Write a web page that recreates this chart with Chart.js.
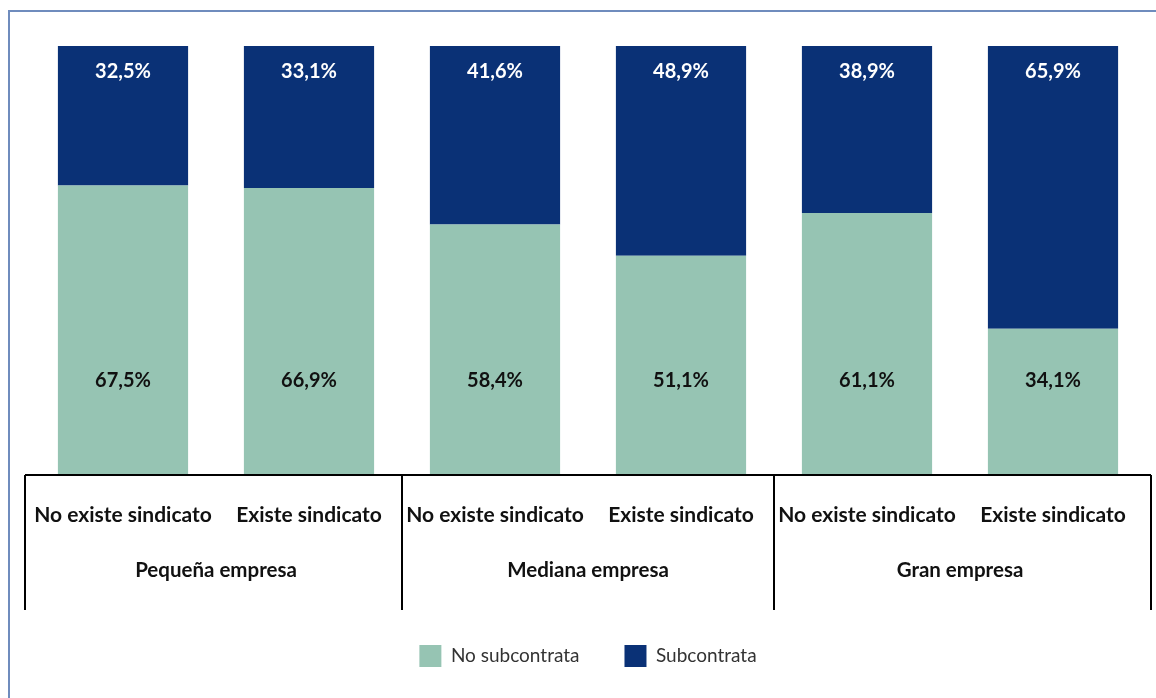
<!DOCTYPE html>
<html lang="es">
<head>
<meta charset="utf-8">
<script src="https://cdn.jsdelivr.net/npm/chart.js@4.4.1/dist/chart.umd.min.js"></script>
<style>
  html, body { margin: 0; padding: 0; background: #fff; }
  #marco { position: absolute; left: 8px; top: 10px; width: 1160px; height: 700px;
           border-left: 2px solid #6f8cbd; border-top: 2px solid #6f8cbd; }
  #caja { position: absolute; left: 0; top: 0; width: 1156px; height: 698px; }
</style>
</head>
<body>
<div id="marco"></div>
<div id="caja"><canvas id="grafica"></canvas></div>
<script>
// Datos
const categorias = ['No existe sindicato', 'Existe sindicato', 'No existe sindicato', 'Existe sindicato', 'No existe sindicato', 'Existe sindicato'];
const grupos = ['Pequeña empresa', 'Mediana empresa', 'Gran empresa'];
const noSubcontrata = [67.5, 66.9, 58.4, 51.1, 61.1, 34.1];
const subcontrata = [32.5, 33.1, 41.6, 48.9, 38.9, 65.9];

const colorVerde = '#96c4b3';
const colorAzul = '#0a3176';

const fmt = (v) => v.toFixed(1).replace('.', ',') + '%';

// Etiquetas de valores, líneas del eje y nombres de grupo
const etiquetasPlugin = {
    id: 'etiquetas',
    afterDatasetsDraw(chart) {
        const { ctx, scales: { x, y } } = chart;
        ctx.save();
        ctx.font = 'bold 20px Lato';
        ctx.textAlign = 'center';
        ctx.textBaseline = 'middle';
        categorias.forEach((c, i) => {
            const px = x.getPixelForValue(i);
            ctx.fillStyle = '#ffffff';
            ctx.fillText(fmt(subcontrata[i]), px, y.getPixelForValue(94));
            ctx.fillStyle = '#111111';
            ctx.fillText(fmt(noSubcontrata[i]), px, y.getPixelForValue(22));
        });
        ctx.restore();
    },
    afterDraw(chart) {
        const { ctx, scales: { x }, chartArea } = chart;
        const base = chartArea.bottom;
        const alto = 135;
        ctx.save();
        ctx.strokeStyle = '#000';
        ctx.lineWidth = 2;
        ctx.beginPath();
        ctx.moveTo(chartArea.left - 5, base);
        ctx.lineTo(chartArea.right + 5, base);
        const cortes = [chartArea.left - 5];
        for (let g = 1; g < grupos.length; g++) {
            cortes.push((x.getPixelForValue(g * 2 - 1) + x.getPixelForValue(g * 2)) / 2);
        }
        cortes.push(chartArea.right + 5);
        cortes.forEach(cx => {
            ctx.moveTo(cx, base);
            ctx.lineTo(cx, base + alto);
        });
        ctx.stroke();

        ctx.font = 'bold 20.5px Lato';
        ctx.fillStyle = '#111111';
        ctx.textAlign = 'center';
        ctx.textBaseline = 'middle';
        grupos.forEach((g, i) => {
            const cx = (x.getPixelForValue(i * 2) + x.getPixelForValue(i * 2 + 1)) / 2;
            ctx.fillText(g, cx, base + 95);
        });
        ctx.restore();
    }
};

const ctx = document.getElementById('grafica').getContext('2d');

new Chart(ctx, {
    type: 'bar',
    data: {
        labels: categorias,
        datasets: [
            {
                label: 'No subcontrata',
                data: noSubcontrata,
                backgroundColor: colorVerde,
                barPercentage: 0.7,
                categoryPercentage: 1
            },
            {
                label: 'Subcontrata',
                data: subcontrata,
                backgroundColor: colorAzul,
                barPercentage: 0.7,
                categoryPercentage: 1
            }
        ]
    },
    options: {
        responsive: true,
        maintainAspectRatio: false,
        animation: false,
        layout: { padding: { left: 30, right: 10, top: 46, bottom: 21 } },
        plugins: {
            tooltip: { enabled: false },
            legend: {
                position: 'bottom',
                labels: {
                    boxWidth: 22,
                    boxHeight: 22,
                    padding: 45,
                    color: '#333333',
                    font: { family: 'Lato', size: 19 }
                }
            }
        },
        scales: {
            x: {
                stacked: true,
                grid: { display: false, drawTicks: false },
                border: { display: false },
                ticks: {
                    autoSkip: false,
                    maxRotation: 0,
                    padding: 28,
                    color: '#111111',
                    font: { family: 'Lato', size: 21, weight: 'bold' }
                },
                afterFit: (scale) => { scale.height = 125; }
            },
            y: {
                stacked: true,
                display: false,
                min: 0,
                max: 100
            }
        }
    },
    plugins: [etiquetasPlugin]
});
</script>
</body>
</html>
